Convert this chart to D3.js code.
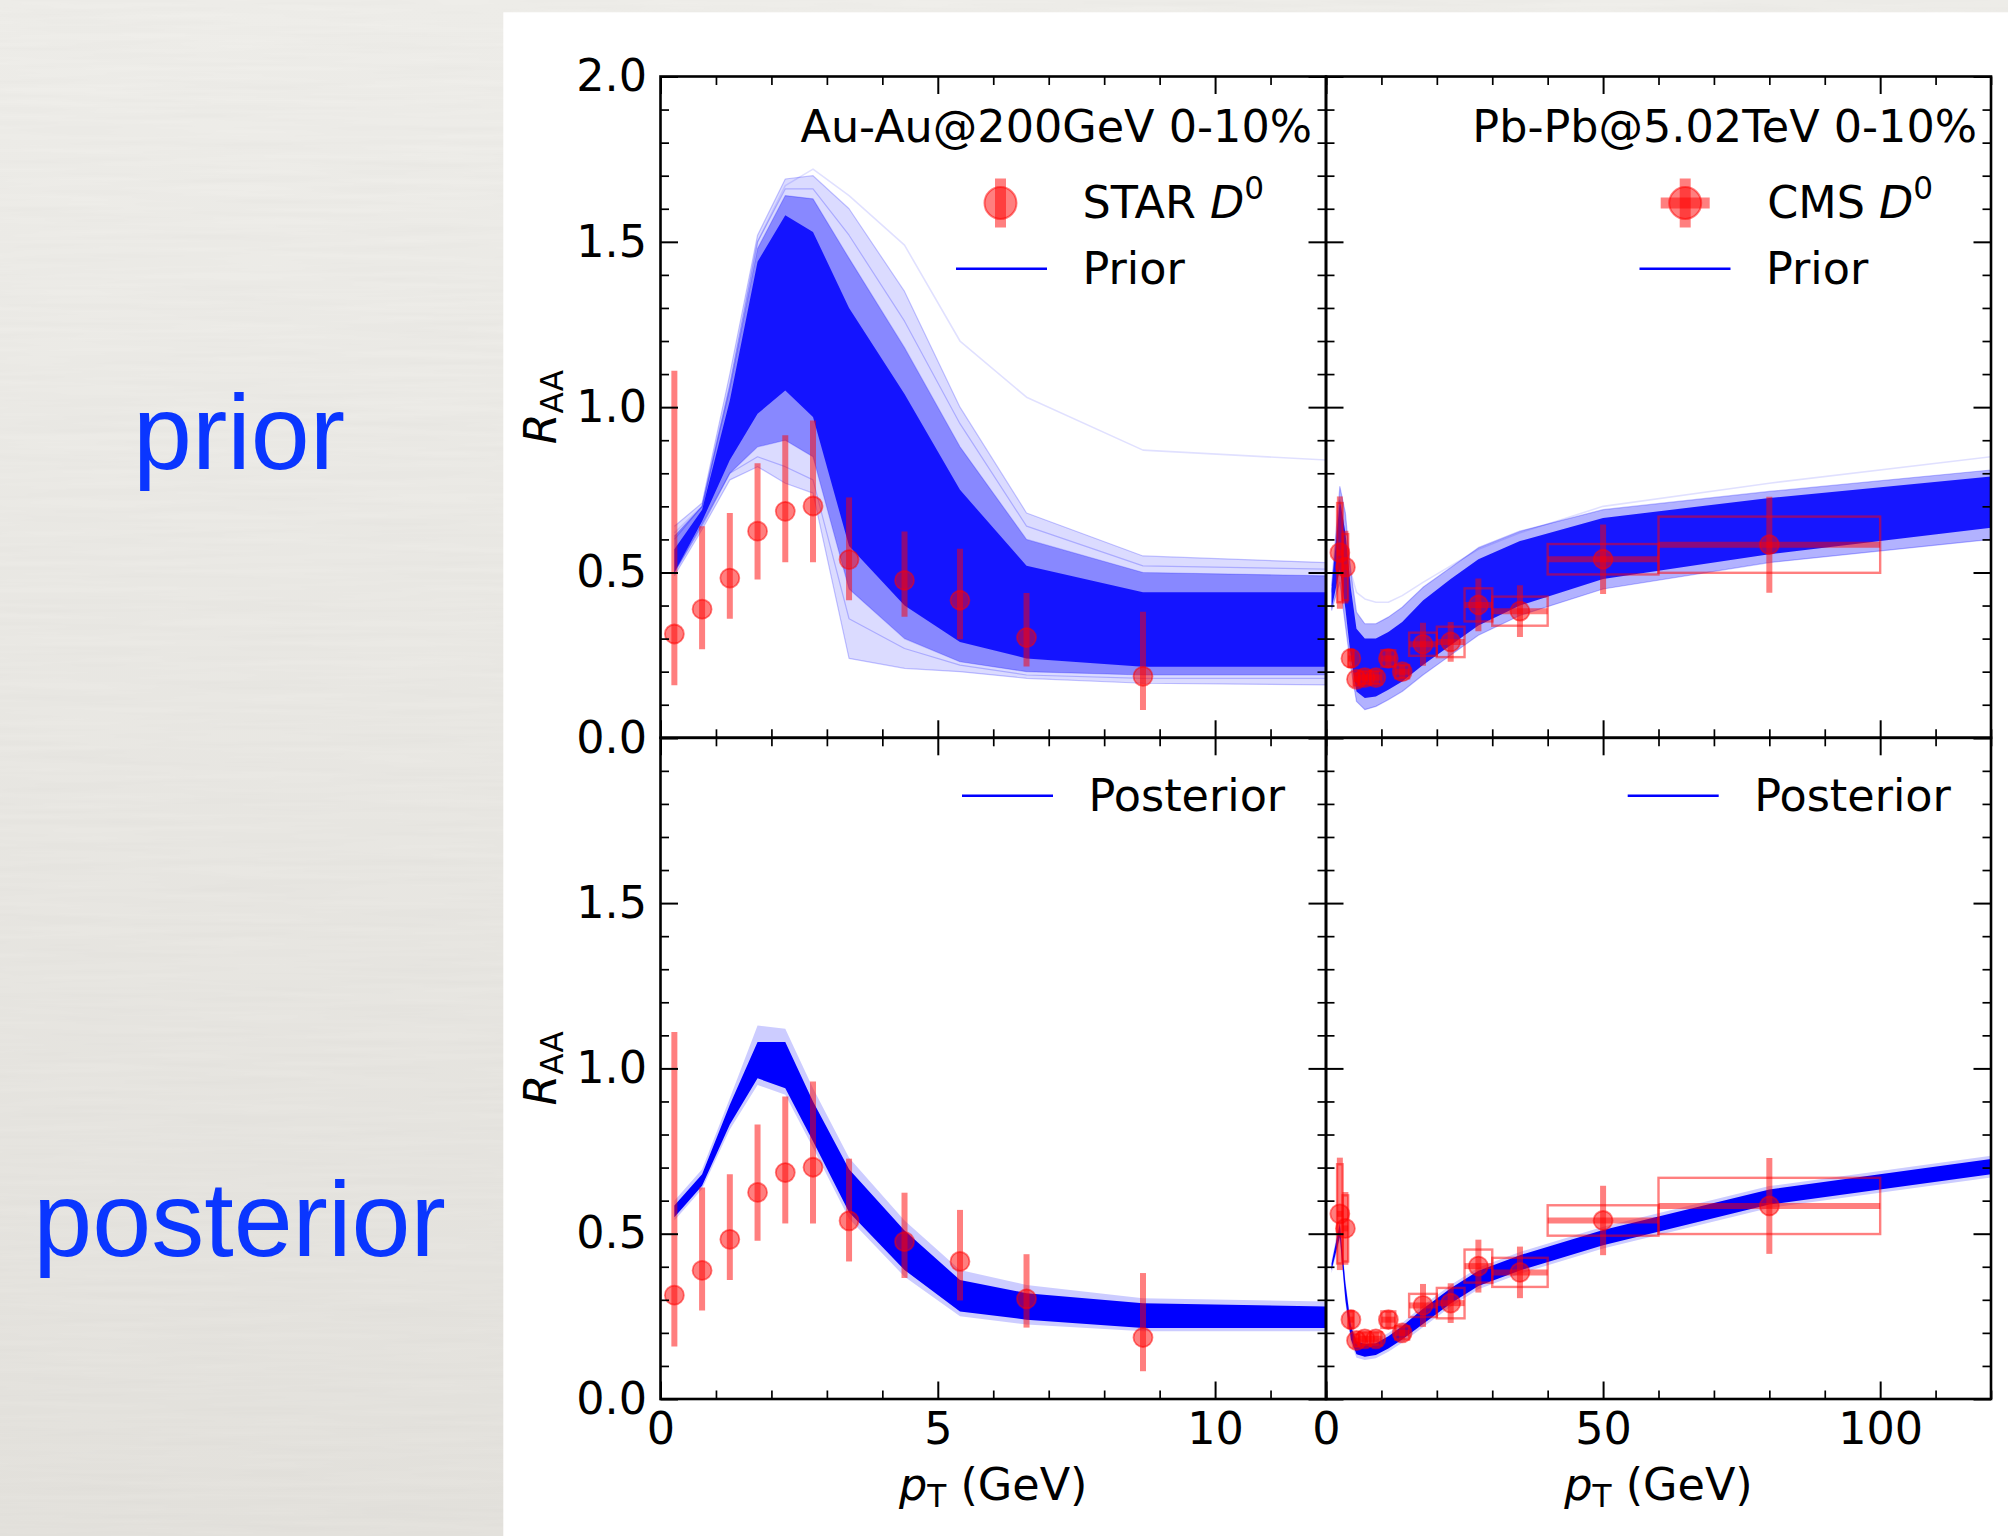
<!DOCTYPE html>
<html>
<head>
<meta charset="utf-8">
<script src="https://cdn.jsdelivr.net/npm/d3@7"></script>
<style>
  html, body { margin: 0; padding: 0; background: #ebe9e4; }
  svg { display: block; }
</style>
</head>
<body>
<svg id="fig" width="2008" height="1536"></svg>
<script>
// ---------------- data ----------------
// STAR D0, Au-Au 200 GeV, 0-10%
const starPt    = [0.25, 0.75, 1.25, 1.75, 2.25, 2.75, 3.4, 4.4, 5.4, 6.6, 8.7];
const starRaa   = [0.314, 0.389, 0.483, 0.625, 0.685, 0.701, 0.539, 0.476, 0.416, 0.303, 0.186];
const starErrUp = [0.796, 0.251, 0.197, 0.205, 0.230, 0.259, 0.188, 0.148, 0.156, 0.135, 0.195];
const starErrDn = [0.155, 0.121, 0.123, 0.146, 0.154, 0.170, 0.123, 0.110, 0.118, 0.087, 0.102];

// CMS D0, Pb-Pb 5.02 TeV, 0-10%
const cmsPt     = [2.5, 3.5, 4.5, 5.5, 7, 9, 11.25, 13.75, 17.5, 22.5, 27.5, 35, 50, 80];
const cmsBinLo  = [2, 3, 4, 5, 6, 8, 10, 12.5, 15, 20, 25, 30, 40, 60];
const cmsBinHi  = [3, 4, 5, 6, 8, 10, 12.5, 15, 20, 25, 30, 40, 60, 100];
const cmsRaa    = [0.560, 0.516, 0.240, 0.177, 0.182, 0.182, 0.240, 0.200, 0.283, 0.290, 0.402, 0.383, 0.540, 0.584];
const cmsStat   = [0.170, 0.110, 0.030, 0.020, 0.020, 0.020, 0.025, 0.020, 0.065, 0.060, 0.080, 0.078, 0.105, 0.145];
const cmsSys    = [0.150, 0.100, 0.025, 0.020, 0.020, 0.020, 0.025, 0.020, 0.035, 0.046, 0.050, 0.044, 0.046, 0.085];

// model pT grids
const auauModelPt = [0.25, 0.75, 1.25, 1.75, 2.25, 2.75, 3.4, 4.4, 5.4, 6.6, 8.7, 12];
const pbpbModelPt = [1, 2.5, 3.5, 4.5, 5.5, 7, 9, 11.25, 13.75, 17.5, 22.5, 27.5, 35, 50, 80, 120];

// Au-Au prior ensemble: outer / middle / core envelopes and single visible members
const auauPriorOuterLo = [0.49, 0.63, 0.78, 0.82, 0.77, 0.74, 0.24, 0.21, 0.20, 0.18, 0.165, 0.16];
const auauPriorOuterHi = [0.64, 0.71, 1.10, 1.52, 1.69, 1.70, 1.60, 1.35, 1.00, 0.68, 0.55, 0.53];
const auauPriorMidLo   = [0.50, 0.645, 0.80, 0.88, 0.90, 0.85, 0.45, 0.30, 0.23, 0.20, 0.19, 0.19];
const auauPriorMidHi   = [0.61, 0.70, 1.06, 1.48, 1.64, 1.63, 1.45, 1.18, 0.88, 0.60, 0.50, 0.49];
const auauPriorCoreLo  = [0.50, 0.655, 0.84, 0.98, 1.05, 0.97, 0.58, 0.40, 0.29, 0.24, 0.215, 0.215];
const auauPriorCoreHi  = [0.57, 0.69, 1.02, 1.44, 1.58, 1.53, 1.30, 1.04, 0.75, 0.52, 0.44, 0.44];
const auauPriorTop     = [0.62, 0.70, 1.06, 1.50, 1.67, 1.72, 1.64, 1.49, 1.20, 1.03, 0.87, 0.84];
const auauPriorLowA    = [0.50, 0.64, 0.80, 0.85, 0.82, 0.78, 0.36, 0.27, 0.22, 0.19, 0.18, 0.18];
const auauPriorHighA   = [0.60, 0.70, 1.07, 1.50, 1.66, 1.66, 1.52, 1.26, 0.95, 0.64, 0.52, 0.51];

// Au-Au posterior ensemble
const auauPostOuterLo = [0.54, 0.635, 0.815, 0.95, 0.92, 0.76, 0.545, 0.37, 0.25, 0.225, 0.205, 0.205];
const auauPostOuterHi = [0.60, 0.695, 0.91, 1.13, 1.12, 0.94, 0.73, 0.54, 0.39, 0.345, 0.305, 0.295];
const auauPostCoreLo  = [0.55, 0.645, 0.83, 0.97, 0.94, 0.78, 0.565, 0.39, 0.265, 0.24, 0.215, 0.215];
const auauPostCoreHi  = [0.585, 0.68, 0.89, 1.08, 1.08, 0.90, 0.695, 0.51, 0.36, 0.32, 0.29, 0.28];

// Pb-Pb prior ensemble
const pbpbPriorOuterLo = [0.385, 0.47, 0.34, 0.21, 0.11, 0.085, 0.095, 0.115, 0.14, 0.19, 0.25, 0.31, 0.37, 0.45, 0.53, 0.60];
const pbpbPriorOuterHi = [0.46, 0.76, 0.68, 0.50, 0.38, 0.345, 0.345, 0.365, 0.395, 0.455, 0.515, 0.575, 0.625, 0.69, 0.745, 0.81];
const pbpbPriorCoreLo  = [0.39, 0.51, 0.39, 0.24, 0.14, 0.12, 0.125, 0.145, 0.17, 0.22, 0.28, 0.34, 0.40, 0.48, 0.555, 0.635];
const pbpbPriorCoreHi  = [0.45, 0.72, 0.62, 0.45, 0.33, 0.30, 0.30, 0.32, 0.35, 0.415, 0.48, 0.54, 0.595, 0.665, 0.725, 0.79];
const pbpbPriorTop     = [0.44, 0.72, 0.60, 0.50, 0.44, 0.42, 0.41, 0.41, 0.43, 0.47, 0.52, 0.57, 0.62, 0.70, 0.77, 0.85];

// Pb-Pb posterior ensemble
const pbpbPostOuterLo = [0.38, 0.48, 0.29, 0.17, 0.125, 0.118, 0.123, 0.143, 0.17, 0.217, 0.279, 0.332, 0.379, 0.455, 0.578, 0.67];
const pbpbPostOuterHi = [0.42, 0.54, 0.36, 0.23, 0.185, 0.176, 0.179, 0.20, 0.23, 0.283, 0.345, 0.398, 0.445, 0.521, 0.644, 0.736];
const pbpbPostCoreLo  = [0.39, 0.49, 0.30, 0.18, 0.135, 0.128, 0.133, 0.153, 0.18, 0.227, 0.289, 0.342, 0.389, 0.465, 0.588, 0.68];
const pbpbPostCoreHi  = [0.41, 0.53, 0.35, 0.22, 0.175, 0.166, 0.169, 0.19, 0.22, 0.273, 0.335, 0.388, 0.435, 0.511, 0.634, 0.726];

// axis ticks and labels
const auauXMajor = [0, 5, 10];
const pbpbXMajor = [0, 50, 100];
const auauXMinor = d3.range(0, 13).filter(v => v % 5 !== 0);
const pbpbXMinor = d3.range(0, 121, 10).filter(v => v % 50 !== 0);
const yMajor = [0, 0.5, 1, 1.5, 2];
const yMinor = d3.range(0, 21).filter(i => i % 5 !== 0).map(i => i / 10);
const yLabelsTop = [0, 0.5, 1, 1.5, 2];
const yLabelsBottom = [0, 0.5, 1, 1.5];
const systemTitles = ["Au-Au@200GeV 0-10%", "Pb-Pb@5.02TeV 0-10%"];
const rowNames = ["prior", "posterior"];

// ---------------- layout ----------------
const svg = d3.select('#fig');
const W = 2008, H = 1536;
const FONT = "'DejaVu Sans', sans-serif";
const FS = 44.5;
const X0 = 660.5, X1 = 1326, X2 = 1991;
const Y0 = 76.5, Y1 = 737.8, Y2 = 1399;
const RED = '#ff0000', BLUE = '#0000ff';

const xAu = d3.scaleLinear([0, 12], [X0, X1]);
const xPb = d3.scaleLinear([0, 120], [X1, X2]);
const yTop = d3.scaleLinear([0, 2], [Y1, Y0]);
const yBot = d3.scaleLinear([0, 2], [Y2, Y1]);

// paper background with a faint grain
const defs = svg.append('defs');
const grad = defs.append('linearGradient').attr('id', 'paperGrad')
  .attr('x1', 0).attr('y1', 0).attr('x2', 0).attr('y2', 1);
grad.append('stop').attr('offset', '0%').attr('stop-color', '#efeeea');
grad.append('stop').attr('offset', '100%').attr('stop-color', '#e4e2dd');
const grain = defs.append('filter').attr('id', 'grain')
  .attr('x', 0).attr('y', 0).attr('width', '100%').attr('height', '100%');
grain.append('feTurbulence').attr('type', 'fractalNoise')
  .attr('baseFrequency', '0.006 0.15').attr('numOctaves', 2).attr('seed', 7);
grain.append('feColorMatrix').attr('type', 'matrix')
  .attr('values', '0 0 0 0 0.45  0 0 0 0 0.44  0 0 0 0 0.42  0.12 0 0 0 -0.03');

svg.append('rect').attr('width', W).attr('height', H).attr('fill', 'url(#paperGrad)');
svg.append('rect').attr('width', W).attr('height', H).attr('filter', 'url(#grain)');
svg.append('rect').attr('x', 503.3).attr('y', 12.3)
  .attr('width', W - 503.3).attr('height', H - 12.3).attr('fill', '#ffffff');

// row names on the left
svg.append('text').attr('x', 239).attr('y', 469)
  .attr('text-anchor', 'middle').attr('font-family', "'Liberation Sans', Arial, sans-serif")
  .attr('font-size', 106).attr('fill', '#0a36ff').text(rowNames[0]);
svg.append('text').attr('x', 239.5).attr('y', 1256)
  .attr('text-anchor', 'middle').attr('font-family', "'Liberation Sans', Arial, sans-serif")
  .attr('font-size', 106).attr('fill', '#0a36ff').text(rowNames[1]);

// ---------------- helpers ----------------
let clipId = 0;
function panelGroup(x, y) {
  const id = 'clip' + (clipId++);
  const [xa, xb] = x.range(), [ya, yb] = y.range();
  defs.append('clipPath').attr('id', id).append('rect')
    .attr('x', xa).attr('y', yb).attr('width', xb - xa).attr('height', ya - yb);
  return svg.append('g').attr('clip-path', `url(#${id})`);
}

function band(g, x, y, pts, lo, hi, opacity) {
  const area = d3.area()
    .x((d, i) => x(pts[i]))
    .y0((d, i) => y(lo[i]))
    .y1((d, i) => y(hi[i]));
  g.append('path').attr('d', area(pts)).attr('fill', BLUE).attr('fill-opacity', opacity);
}

function curve(g, x, y, pts, vals, opacity, width) {
  const line = d3.line().x((d, i) => x(pts[i])).y(d => y(d));
  g.append('path').attr('d', line(vals)).attr('fill', 'none')
    .attr('stroke', BLUE).attr('stroke-opacity', opacity).attr('stroke-width', width)
    .attr('stroke-linejoin', 'round');
}

const MARK_R = 9.5, BAR_W = 6;

function drawStar(g, x, y) {
  const eb = g.append('g');
  starPt.forEach((p, i) => {
    eb.append('line')
      .attr('x1', x(p)).attr('x2', x(p))
      .attr('y1', y(starRaa[i] - starErrDn[i])).attr('y2', y(starRaa[i] + starErrUp[i]))
      .attr('stroke', RED).attr('stroke-opacity', 0.5).attr('stroke-width', BAR_W);
  });
  g.append('g').selectAll('circle').data(starPt).join('circle')
    .attr('cx', d => x(d)).attr('cy', (d, i) => y(starRaa[i])).attr('r', MARK_R)
    .attr('fill', RED).attr('fill-opacity', 0.5)
    .attr('stroke', RED).attr('stroke-opacity', 0.5).attr('stroke-width', 1.8);
}

function drawCms(g, x, y) {
  g.append('g').selectAll('rect').data(cmsPt).join('rect')
    .attr('x', (d, i) => x(cmsBinLo[i]))
    .attr('width', (d, i) => x(cmsBinHi[i]) - x(cmsBinLo[i]))
    .attr('y', (d, i) => y(cmsRaa[i] + cmsSys[i]))
    .attr('height', (d, i) => y(cmsRaa[i] - cmsSys[i]) - y(cmsRaa[i] + cmsSys[i]))
    .attr('fill', 'none').attr('stroke', RED).attr('stroke-opacity', 0.5).attr('stroke-width', 2.4);
  const eb = g.append('g');
  cmsPt.forEach((p, i) => {
    eb.append('line')
      .attr('x1', x(p)).attr('x2', x(p))
      .attr('y1', y(cmsRaa[i] - cmsStat[i])).attr('y2', y(cmsRaa[i] + cmsStat[i]))
      .attr('stroke', RED).attr('stroke-opacity', 0.5).attr('stroke-width', BAR_W);
    eb.append('line')
      .attr('x1', x(cmsBinLo[i])).attr('x2', x(cmsBinHi[i]))
      .attr('y1', y(cmsRaa[i])).attr('y2', y(cmsRaa[i]))
      .attr('stroke', RED).attr('stroke-opacity', 0.5).attr('stroke-width', BAR_W);
  });
  g.append('g').selectAll('circle').data(cmsPt).join('circle')
    .attr('cx', d => x(d)).attr('cy', (d, i) => y(cmsRaa[i])).attr('r', MARK_R)
    .attr('fill', RED).attr('fill-opacity', 0.5)
    .attr('stroke', RED).attr('stroke-opacity', 0.5).attr('stroke-width', 1.8);
}

function axisSet(x, y, xMajor, xMinor, xLabels, yLabels) {
  const [xa, xb] = x.range(), [ya, yb] = y.range();
  const g = svg.append('g');
  const MAJ = 17.5, MIN = 8.5;
  const style = (sel, w) => {
    sel.select('.domain').remove();
    sel.selectAll('line').attr('stroke', '#000').attr('stroke-width', w);
    sel.attr('font-family', FONT).attr('font-size', FS);
    sel.selectAll('text').attr('fill', '#000');
    return sel;
  };
  const xf = d => (xLabels && xLabels.includes(d)) ? d3.format('d')(d) : '';
  const yf = d => (yLabels && yLabels.includes(d)) ? d3.format('.1f')(d) : '';
  // bottom
  style(g.append('g').attr('transform', `translate(0,${ya})`)
    .call(d3.axisBottom(x).tickValues(xMajor).tickSize(-MAJ).tickPadding(13).tickFormat(xf)), 2);
  style(g.append('g').attr('transform', `translate(0,${ya})`)
    .call(d3.axisBottom(x).tickValues(xMinor).tickSize(-MIN).tickFormat('')), 1.7);
  // top
  style(g.append('g').attr('transform', `translate(0,${yb})`)
    .call(d3.axisTop(x).tickValues(xMajor).tickSize(-MAJ).tickFormat('')), 2);
  style(g.append('g').attr('transform', `translate(0,${yb})`)
    .call(d3.axisTop(x).tickValues(xMinor).tickSize(-MIN).tickFormat('')), 1.7);
  // left
  style(g.append('g').attr('transform', `translate(${xa},0)`)
    .call(d3.axisLeft(y).tickValues(yMajor).tickSize(-MAJ).tickPadding(13.5).tickFormat(yf)), 2);
  style(g.append('g').attr('transform', `translate(${xa},0)`)
    .call(d3.axisLeft(y).tickValues(yMinor).tickSize(-MIN).tickFormat('')), 1.7);
  // right
  style(g.append('g').attr('transform', `translate(${xb},0)`)
    .call(d3.axisRight(y).tickValues(yMajor).tickSize(-MAJ).tickFormat('')), 2);
  style(g.append('g').attr('transform', `translate(${xb},0)`)
    .call(d3.axisRight(y).tickValues(yMinor).tickSize(-MIN).tickFormat('')), 1.7);
  // frame
  g.append('rect').attr('x', xa).attr('y', yb).attr('width', xb - xa).attr('height', ya - yb)
    .attr('fill', 'none').attr('stroke', '#000').attr('stroke-width', 2.6);
}

// ---------------- panels ----------------
// Au-Au prior
{
  const g = panelGroup(xAu, yTop);
  band(g, xAu, yTop, auauModelPt, auauPriorOuterLo, auauPriorOuterHi, 0.14);
  band(g, xAu, yTop, auauModelPt, auauPriorMidLo, auauPriorMidHi, 0.38);
  band(g, xAu, yTop, auauModelPt, auauPriorCoreLo, auauPriorCoreHi, 0.85);
  [auauPriorOuterLo, auauPriorOuterHi, auauPriorMidLo, auauPriorMidHi, auauPriorLowA, auauPriorHighA].forEach(c =>
    curve(g, xAu, yTop, auauModelPt, c, 0.22, 1.2));
  curve(g, xAu, yTop, auauModelPt, auauPriorTop, 0.12, 1.6);
  drawStar(g, xAu, yTop);
}
// Pb-Pb prior
{
  const g = panelGroup(xPb, yTop);
  band(g, xPb, yTop, pbpbModelPt, pbpbPriorOuterLo, pbpbPriorOuterHi, 0.3);
  band(g, xPb, yTop, pbpbModelPt, pbpbPriorCoreLo, pbpbPriorCoreHi, 0.88);
  [pbpbPriorOuterLo, pbpbPriorOuterHi].forEach(c =>
    curve(g, xPb, yTop, pbpbModelPt, c, 0.25, 1.2));
  curve(g, xPb, yTop, pbpbModelPt, pbpbPriorTop, 0.12, 1.6);
  drawCms(g, xPb, yTop);
}
// Au-Au posterior
{
  const g = panelGroup(xAu, yBot);
  band(g, xAu, yBot, auauModelPt, auauPostOuterLo, auauPostOuterHi, 0.2);
  band(g, xAu, yBot, auauModelPt, auauPostCoreLo, auauPostCoreHi, 1.0);
  drawStar(g, xAu, yBot);
}
// Pb-Pb posterior
{
  const g = panelGroup(xPb, yBot);
  band(g, xPb, yBot, pbpbModelPt, pbpbPostOuterLo, pbpbPostOuterHi, 0.2);
  band(g, xPb, yBot, pbpbModelPt, pbpbPostCoreLo, pbpbPostCoreHi, 1.0);
  drawCms(g, xPb, yBot);
}

axisSet(xAu, yTop, auauXMajor, auauXMinor, null, yLabelsTop);
axisSet(xPb, yTop, pbpbXMajor, pbpbXMinor, null, null);
axisSet(xAu, yBot, auauXMajor, auauXMinor, auauXMajor, yLabelsBottom);
axisSet(xPb, yBot, pbpbXMajor, pbpbXMinor, pbpbXMajor, null);

// ---------------- titles and legends ----------------
function txt(x, y, anchor) {
  return svg.append('text').attr('x', x).attr('y', y).attr('text-anchor', anchor)
    .attr('font-family', FONT).attr('font-size', FS).attr('fill', '#000');
}
txt(X1 - 14, 142, 'end').text(systemTitles[0]);
txt(X2 - 14, 142, 'end').text(systemTitles[1]);

function legendLine(cx, cy, label) {
  svg.append('line').attr('x1', cx - 45.5).attr('x2', cx + 45.5).attr('y1', cy).attr('y2', cy)
    .attr('stroke', BLUE).attr('stroke-width', 2.6);
  txt(cx + 81, cy + 15, 'start').text(label);
}
function legendData(cx, cy, name, horiz) {
  svg.append('line').attr('x1', cx).attr('x2', cx).attr('y1', cy - 24.5).attr('y2', cy + 24.5)
    .attr('stroke', RED).attr('stroke-opacity', 0.5).attr('stroke-width', 11);
  if (horiz) {
    svg.append('line').attr('x1', cx - 24.5).attr('x2', cx + 24.5).attr('y1', cy).attr('y2', cy)
      .attr('stroke', RED).attr('stroke-opacity', 0.5).attr('stroke-width', 11);
  }
  svg.append('circle').attr('cx', cx).attr('cy', cy).attr('r', 16)
    .attr('fill', RED).attr('fill-opacity', 0.5)
    .attr('stroke', RED).attr('stroke-opacity', 0.5).attr('stroke-width', 2);
  const t = txt(cx + 82, cy + 14.5, 'start');
  t.append('tspan').text(name + ' ');
  t.append('tspan').attr('font-style', 'italic').text('D');
  t.append('tspan').attr('font-size', FS * 0.7).attr('dy', -19).text('0');
}

legendData(1000.5, 203, 'STAR', false);
legendLine(1001.5, 268.7, 'Prior');
legendData(1685.2, 203, 'CMS', true);
legendLine(1685, 268.7, 'Prior');
legendLine(1007.5, 795.8, 'Posterior');
legendLine(1673.2, 795.8, 'Posterior');

// axis titles
function yTitle(cy) {
  const t = svg.append('text').attr('transform', `translate(556,${cy}) rotate(-90)`)
    .attr('text-anchor', 'middle').attr('font-family', FONT).attr('font-size', FS).attr('fill', '#000');
  t.append('tspan').attr('font-style', 'italic').text('R');
  t.append('tspan').attr('font-size', FS * 0.7).attr('dy', 7).text('AA');
}
yTitle((Y0 + Y1) / 2);
yTitle((Y1 + Y2) / 2);

function xTitle(cx) {
  const t = svg.append('text').attr('x', cx).attr('y', 1500)
    .attr('text-anchor', 'middle').attr('font-family', FONT).attr('font-size', FS).attr('fill', '#000');
  t.append('tspan').attr('font-style', 'italic').text('p');
  t.append('tspan').attr('font-size', FS * 0.7).attr('dy', 7).text('T');
  t.append('tspan').attr('dy', -7).text(' (GeV)');
}
xTitle((X0 + X1) / 2);
xTitle((X1 + X2) / 2);
</script>
</body>
</html>
